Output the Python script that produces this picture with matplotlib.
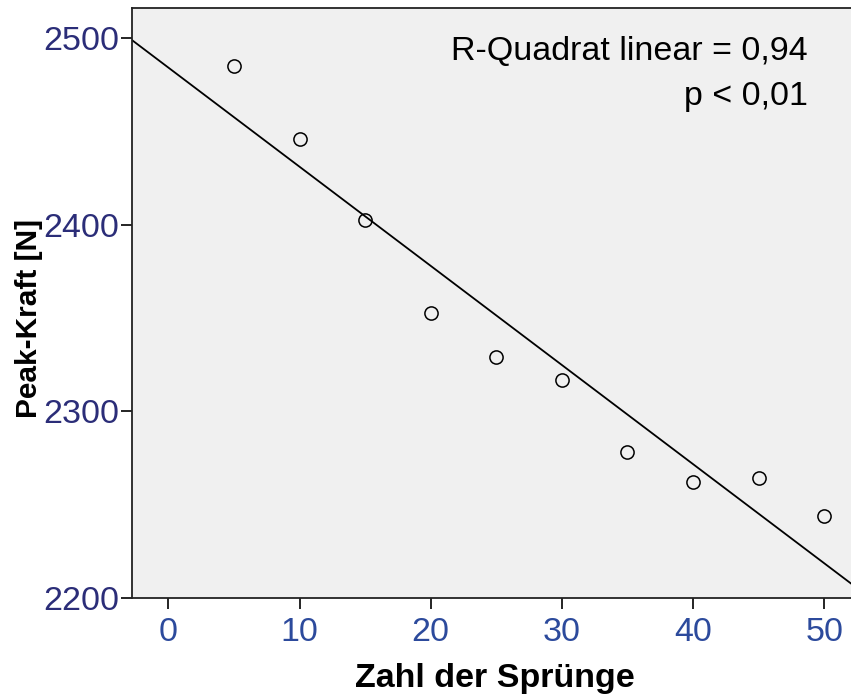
import numpy as np
import matplotlib.pyplot as plt

plt.rcParams['font.family'] = ['Liberation Sans', 'DejaVu Sans']

# Sprunganzahl und gemessene Peak-Kraft
spruenge = np.array([5, 10, 15, 20, 25, 30, 35, 40, 45, 50])
peak_kraft = np.array([2485, 2446, 2402.5, 2352.7, 2329, 2317, 2278, 2262, 2264.3, 2244])

xticks = [0, 10, 20, 30, 40, 50]
yticks = [2200, 2300, 2400, 2500]

# lineare Regression
steigung, achse = np.polyfit(spruenge, peak_kraft, 1)

fig = plt.figure(figsize=(8.51, 7.0), dpi=100)
ax = fig.add_axes([132/851, 1-598/700, 725/851, (598-7.5)/700])
ax.set_facecolor('#f0f0f0')

xlim = (-2.77, 52.5)
ax.set_xlim(*xlim)
ax.set_ylim(2200, 2516.2)

x_line = np.array(xlim)
ax.plot(x_line, achse + steigung*x_line, color='black', lw=1.3)
ax.plot(spruenge, peak_kraft, 'o', mfc='none', mec='black', ms=9.5, mew=1.1)

ax.set_xticks(xticks)
ax.set_yticks(yticks)
ax.tick_params(axis='both', direction='out', length=8, width=1.2, labelsize=24.5)
ax.tick_params(axis='y', labelcolor='#2b2d78', pad=1)
ax.tick_params(axis='x', labelcolor='#2c4a9c', pad=6)
for s in ax.spines.values():
    s.set_linewidth(1.3)
    s.set_color('#222222')
ax.spines['right'].set_visible(False)

ax.set_xlabel('Zahl der Sprünge', fontsize=24.5, fontweight='bold')
ax.xaxis.set_label_coords((495 - 132) / 725, -(678 - 598) / 590.5)
ax.set_ylabel('Peak-Kraft [N]', fontsize=21.5, fontweight='bold')
ax.yaxis.set_label_coords(-(132 - 29) / 725, (598 - 318) / 590.5)
ax.xaxis.label.set_va('center')
ax.yaxis.label.set_va('center')

ax.text(0.932, 0.952, 'R-Quadrat linear = 0,94\np < 0,01', transform=ax.transAxes,
        ha='right', va='top', fontsize=24.5, linespacing=1.6)

fig.savefig('out.png', dpi=100)
